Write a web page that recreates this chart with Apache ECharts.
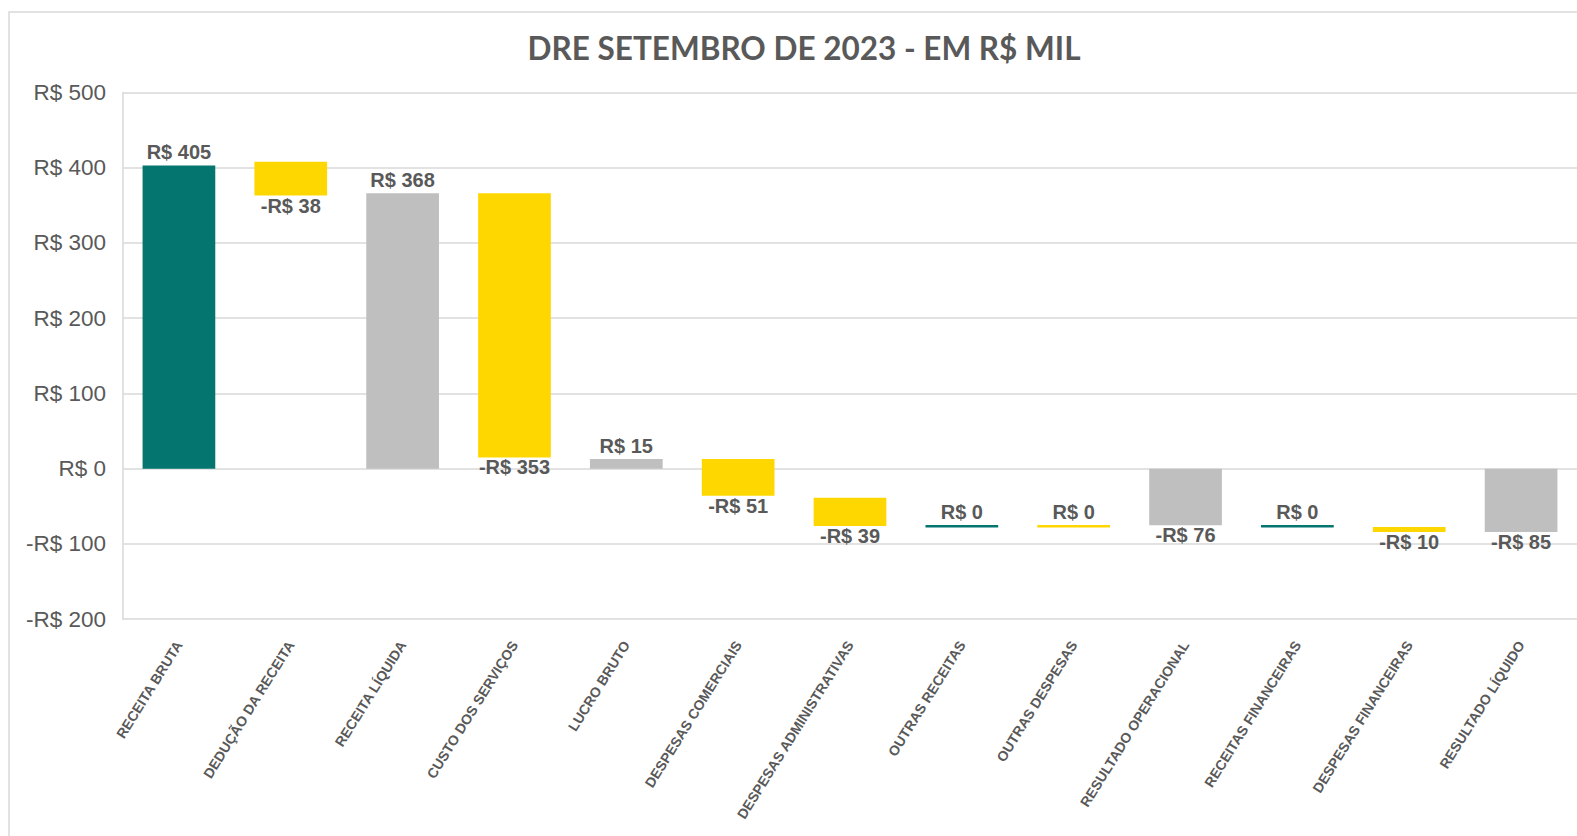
<!DOCTYPE html>
<html>
<head>
<meta charset="utf-8">
<script src="https://cdn.jsdelivr.net/npm/echarts@6/dist/echarts.min.js"></script>
<style>
html,body{margin:0;padding:0;background:#fff;}
#chart{width:1577px;height:836px;}
</style>
</head>
<body>
<div id="chart"></div>
<script>
// ---- data ----
const titleText = 'DRE SETEMBRO DE 2023 - EM R$ MIL';
const categories = ['RECEITA BRUTA','DEDUÇÃO DA RECEITA','RECEITA LÍQUIDA','CUSTO DOS SERVIÇOS','LUCRO BRUTO','DESPESAS COMERCIAIS','DESPESAS ADMINISTRATIVAS','OUTRAS RECEITAS','OUTRAS DESPESAS','RESULTADO OPERACIONAL','RECEITAS FINANCEIRAS','DESPESAS FINANCEIRAS','RESULTADO LÍQUIDO'];
const labelValues = [405, -38, 368, -353, 15, -51, -39, 0, 0, -76, 0, -10, -85];
const barLow  = [0, 363, 0, 15, 0, -36, -76, -76.5, -76.5, -75, -76.5, -84, -84];
const barHigh = [403, 408, 366, 366, 13, 13, -38.5, -76.5, -76.5, 0, -76.5, -77.3, 0];
const barKind = ['up','down','total','down','total','down','down','up','down','total','up','down','total'];
const yTicks = [-200, -100, 0, 100, 200, 300, 400, 500];

const kindColor = {up:'#04756F', down:'#FFD700', total:'#BFBFBF'};
function fmt(v){ return v < 0 ? '-R$ ' + Math.abs(v) : 'R$ ' + v; }

const seriesData = categories.map((c,i)=>[i, barLow[i], barHigh[i], labelValues[i]]);

const chart = echarts.init(document.getElementById('chart'), null, {renderer:'svg'});
chart.setOption({
  backgroundColor:'#ffffff',
  animation:false,
  title:{
    text:titleText,
    left:799, top:27, textAlign:'center',
    textStyle:{fontFamily:'Lato', fontWeight:'bold', fontSize:31.5, color:'#595959'}
  },
  graphic:[{
    type:'rect', shape:{x:9, y:12, width:1700, height:1000},
    style:{fill:'none', stroke:'#D9D9D9', lineWidth:1.5}, silent:true, z:-10
  }],
  grid:{left:123, top:92.5, width:1456, height:526.7, containLabel:false},
  xAxis:{
    type:'category', data:categories, boundaryGap:true,
    axisLine:{show:false, onZero:false}, axisTick:{show:false},
    axisLabel:{rotate:58, margin:23, interval:0, color:'#595959', fontFamily:'Liberation Sans, Arial', fontWeight:'bold', fontSize:14}
  },
  yAxis:{
    type:'value', min:yTicks[0], max:yTicks[yTicks.length-1], interval:100,
    axisLine:{show:true, lineStyle:{color:'#D9D9D9', width:1.5}}, axisTick:{show:false},
    splitLine:{lineStyle:{color:'#D9D9D9', width:1.5}},
    axisLabel:{formatter:fmt, margin:17, color:'#595959', fontFamily:'Liberation Sans, Arial', fontSize:22.5}
  },
  series:[{
    type:'custom',
    data:seriesData,
    encode:{x:0, y:[1,2]},
    renderItem:function(params, api){
      const i = api.value(0);
      const lo = api.value(1), hi = api.value(2), lv = api.value(3);
      const pTop = api.coord([i, hi]);
      const pBot = api.coord([i, lo]);
      const w = api.size([1,0])[0]*0.65;
      let y = pTop[1], h = pBot[1]-pTop[1];
      if (h < 2.5){ y = y - 1.25; h = 2.5; }
      const color = kindColor[barKind[i]];
      const above = lv >= 0;
      return {
        type:'group',
        children:[
          {type:'rect', shape:{x:pTop[0]-w/2, y:y, width:w, height:h}, style:{fill:color}},
          {type:'text', style:{
            text:fmt(lv), x:pTop[0], y: above ? y-3 : y+h,
            textAlign:'center', textVerticalAlign: above ? 'bottom' : 'top',
            fill:'#595959', font:'bold 20px "Liberation Sans", Arial'
          }}
        ]
      };
    }
  }]
});
</script>
</body>
</html>
